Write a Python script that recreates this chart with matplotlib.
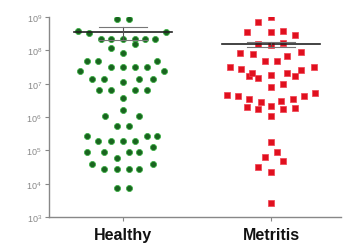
import matplotlib.pyplot as plt
import numpy as np

categories = ["Healthy", "Metritis"]

# (x offset in category units, log10 value)
healthy_x = [-0.04, 0.04,
             -0.30, -0.23, 0.29,
             -0.15, -0.08, 0.0, 0.08, 0.15, 0.22,
             -0.08, 0.08,
             0.0,
             -0.24, -0.17, 0.23,
             -0.08, 0.0, 0.08, 0.16, -0.29, 0.28,
             -0.21, -0.13, 0.11, 0.20, 0.0,
             -0.16, -0.08, 0.08, 0.16,
             0.0,
             0.0,
             -0.12, 0.11,
             -0.04, 0.04,
             -0.24, 0.16, 0.23,
             -0.17, -0.08, 0.0, 0.08,
             0.20,
             -0.24, -0.13, 0.04, 0.11, -0.04,
             -0.21, 0.20,
             -0.13, -0.04, 0.04, 0.11,
             -0.04, 0.04]
healthy_log = [8.94, 8.94,
               8.58, 8.52, 8.55,
               8.34, 8.34, 8.34, 8.34, 8.34, 8.34,
               8.07, 8.19,
               7.92,
               7.68, 7.68, 7.68,
               7.50, 7.50, 7.50, 7.50, 7.38, 7.38,
               7.14, 7.14, 7.14, 7.14, 7.05,
               6.81, 6.81, 6.81, 6.81,
               6.57,
               6.21,
               6.03, 6.03,
               5.73, 5.73,
               5.43, 5.43, 5.43,
               5.28, 5.28, 5.28, 5.28,
               5.10,
               4.95, 4.95, 4.95, 4.95, 4.77,
               4.59, 4.59,
               4.44, 4.44, 4.44, 4.44,
               3.87, 3.87]

metritis_x = [-0.09, 0.0,
              -0.16, 0.0, 0.08, 0.16,
              -0.09, 0.0, 0.08,
              -0.21, -0.12, 0.11, 0.20,
              -0.04, 0.04,
              -0.28, -0.20, -0.15, -0.09, 0.0, 0.11, 0.16, 0.20, 0.29,
              -0.13,
              0.0, 0.08,
              -0.30, -0.22, -0.15, -0.07, 0.07, 0.15, 0.22, 0.30,
              -0.16, -0.09, 0.0, 0.08, 0.16,
              0.0,
              0.0, 0.04, -0.04, 0.08, -0.09, 0.0,
              0.0]
metritis_log = [8.85, 9.0,
                8.55, 8.55, 8.58, 8.46,
                8.19, 8.16, 8.22,
                7.92, 7.89, 7.83, 7.95,
                7.68, 7.68,
                7.50, 7.44, 7.23, 7.17, 7.26, 7.32, 7.23, 7.41, 7.50,
                7.32,
                6.90, 6.99,
                6.66, 6.63, 6.54, 6.45, 6.48, 6.54, 6.63, 6.72,
                6.30, 6.24, 6.33, 6.24, 6.27,
                6.03,
                5.25, 4.95, 4.80, 4.68, 4.50, 4.35,
                3.42]

means = [3.5e8, 1.55e8]
sems = [1.5e8, 0.25e8]

plt.rcParams["font.family"] = ["Liberation Sans", "DejaVu Sans"]

fig = plt.figure(figsize=(3.44, 2.53), dpi=100)
ax = fig.add_axes([0.142, 0.138, 0.848, 0.791])

ax.scatter(0 + np.array(healthy_x), 10 ** np.array(healthy_log), s=19,
           marker="o", facecolor="#1a6320", edgecolor="#3cb044",
           linewidth=0.6, zorder=2)
ax.scatter(1 + np.array(metritis_x), 10 ** np.array(metritis_log), s=24,
           marker="s", facecolor="#e0101e", edgecolor="#f04050",
           linewidth=0.5, zorder=2)

for i, (m, s) in enumerate(zip(means, sems)):
    ax.plot([i - 0.33, i + 0.33], [m, m], color="#222222", lw=1.2, zorder=3)
    ax.plot([i, i], [m - s, m + s], color="#555555", lw=0.8, zorder=3)
    for y in (m - s, m + s):
        ax.plot([i - 0.16, i + 0.16], [y, y], color="#777777", lw=0.8,
                zorder=3)

ax.set_yscale("log")
ax.set_ylim(1e3, 1e9)
ax.set_xlim(-0.5, 1.47)
ax.set_yticks([10.0 ** k for k in range(3, 10)])
ax.yaxis.set_minor_locator(plt.NullLocator())
ax.set_xticks([0, 1])
ax.set_xticklabels(categories, fontsize=11.5, fontweight="bold",
                   color="#111111")
ax.tick_params(axis="y", labelsize=6.5, labelcolor="#888888", length=3,
               color="#888888", width=0.8, pad=2)
ax.tick_params(axis="x", length=3, color="#888888", width=0.8, pad=4)

for side in ("top", "right"):
    ax.spines[side].set_visible(False)
for side in ("left", "bottom"):
    ax.spines[side].set_color("#888888")
    ax.spines[side].set_linewidth(1.0)

plt.savefig("out.png", dpi=100)
